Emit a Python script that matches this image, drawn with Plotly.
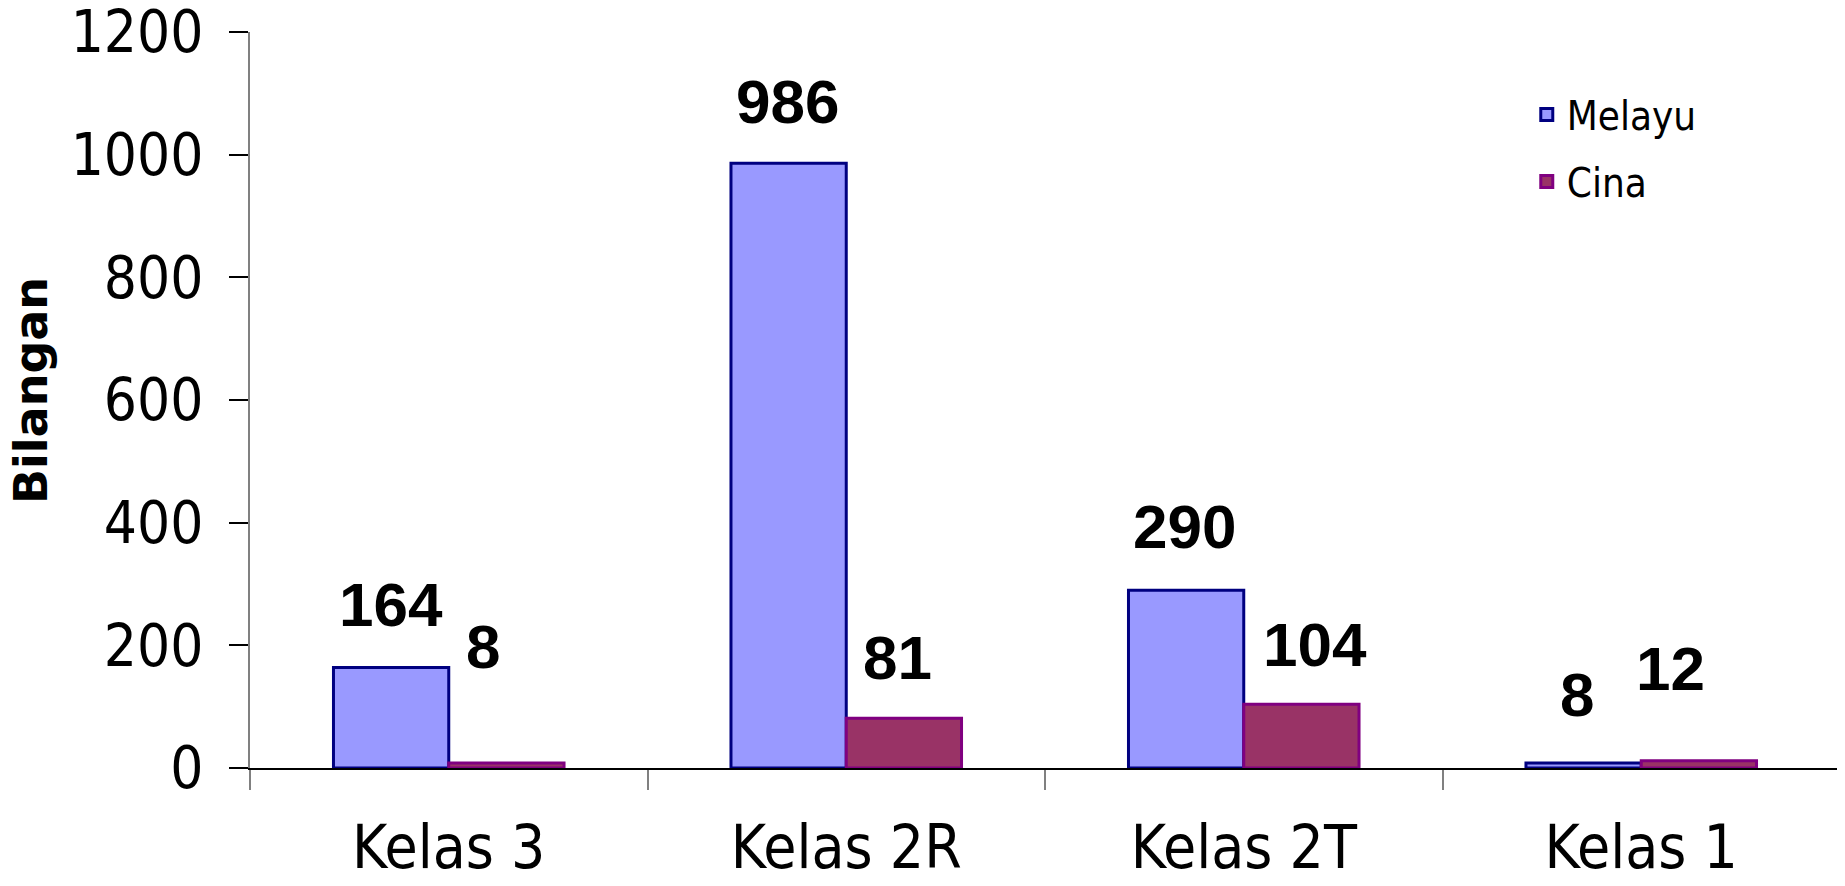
import plotly.graph_objects as go

categories = ["Kelas 3", "Kelas 2R", "Kelas 2T", "Kelas 1"]
melayu = [164, 986, 290, 8]
cina = [8, 81, 104, 12]
y_ticks = [0, 200, 400, 600, 800, 1000, 1200]

# label placement tweaks (pixels): (dx, gap above bar top)
melayu_lbl = [(0, 34), (-1, 33), (-2, 35), (-7, 40)]
cina_lbl = [(-23, 88), (-6, 32), (14, 31), (-28, 64)]

# page body has an 8px margin, so the figure is sized/offset to compensate
OFF = 8
W, H = 1845 - OFF, 886 - OFF
ML, MR, MT, MB = 250 - OFF, 5, 32 - OFF, 118
BARGAP = 0.42
NARROW = "DejaVu Sans Condensed, Liberation Sans Narrow, DejaVu Sans, sans-serif"

plot_w = W - ML - MR
plot_h = H - MT - MB
cat_w = plot_w / len(categories)
bar_w = cat_w * (1 - BARGAP) / 2

fig = go.Figure()
fig.add_trace(go.Bar(
    name="Melayu", x=categories, y=melayu, legendgroup="m",
    marker=dict(color="#9999FF", line=dict(color="#000080", width=3)),
))
fig.add_trace(go.Bar(
    name="Cina", x=categories, y=cina, legendgroup="c",
    marker=dict(color="#993366", line=dict(color="#800080", width=3)),
))

for i, c in enumerate(categories):
    for vals, lbl, sign in ((melayu, melayu_lbl, -1), (cina, cina_lbl, 1)):
        dx, gap = lbl[i]
        fig.add_annotation(
            x=c, y=vals[i], xref="x", yref="y", text="<b>" + str(vals[i]) + "</b>",
            showarrow=False, xanchor="center", yanchor="bottom",
            xshift=sign * bar_w / 2 + dx, yshift=gap - 8,
            font=dict(family="Liberation Sans, Arial, sans-serif", size=62, color="black"),
        )

# y-axis title as rotated text
fig.add_annotation(
    text="<b>Bilangan</b>", textangle=-90, showarrow=False,
    xref="paper", yref="paper",
    x=(31 - 250) / plot_w, y=(768 - 391) / plot_h,
    xanchor="center", yanchor="middle",
    font=dict(family="DejaVu Sans, Verdana, sans-serif", size=46, color="black"),
)

fig.update_layout(
    width=W, height=H,
    margin=dict(l=ML, r=MR, t=MT, b=MB, autoexpand=False),
    paper_bgcolor="white", plot_bgcolor="white",
    barmode="group", bargap=BARGAP, bargroupgap=0,
    showlegend=True,
    legend=dict(
        x=0.803, y=0.932, xanchor="left", yanchor="top",
        font=dict(family=NARROW, size=40, color="black"),
        bgcolor="rgba(0,0,0,0)", tracegroupgap=12, traceorder="grouped",
    ),
    xaxis=dict(
        type="category", showline=True, linecolor="black", linewidth=2,
        ticks="outside", tickson="boundaries", ticklen=20, tickwidth=2, tickcolor="#808080",
        ticklabelstandoff=26,
        tickfont=dict(family=NARROW, size=60, color="black"),
        showgrid=False, zeroline=False, automargin=False,
    ),
    yaxis=dict(
        range=[0, 1200], tickvals=y_ticks, ticktext=[str(v) for v in y_ticks],
        showline=True, linecolor="#808080", linewidth=2,
        ticks="outside", ticklen=19, tickwidth=2, tickcolor="black",
        ticklabelstandoff=14, ticklabeloverflow="allow",
        tickfont=dict(family=NARROW, size=58, color="black"),
        showgrid=False, zeroline=False, automargin=False,
    ),
)

fig.write_html("out.html")
